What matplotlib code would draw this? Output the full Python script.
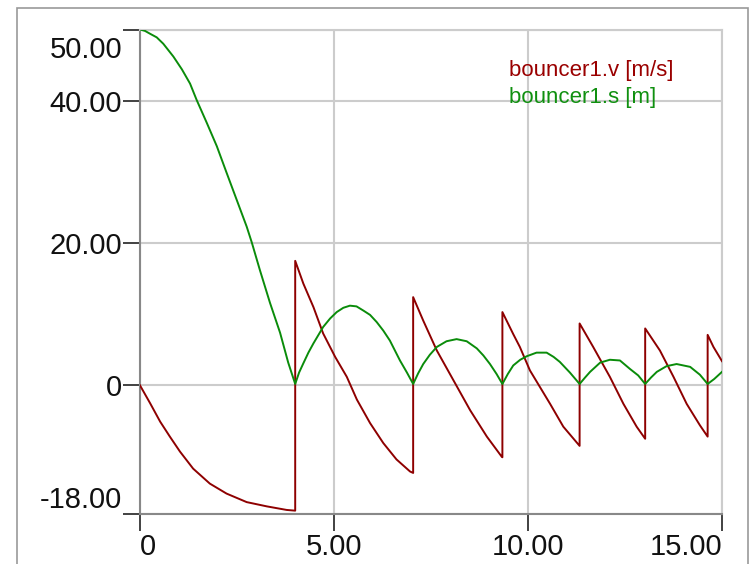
import numpy as np
import matplotlib
matplotlib.use("Agg")
import matplotlib.pyplot as plt
from matplotlib.patches import Rectangle
import matplotlib.transforms as mtransforms

plt.rcParams['font.family'] = ['Liberation Sans', 'DejaVu Sans']

# velocity bouncer1.v [m/s]
t_v = [0, 0.26, 0.52, 0.77, 1.03, 1.37, 1.80, 2.23, 2.75, 3.27, 3.78, 4.0,
       4.0, 4.21, 4.47, 4.72, 5.03, 5.33, 5.59, 5.93, 6.27, 6.61, 6.96, 7.04,
       7.04, 7.30, 7.65, 8.08, 8.51, 8.94, 9.32, 9.34,
       9.34, 9.62, 9.79, 10.05, 10.57, 10.91, 11.33,
       11.33, 11.68, 12.11, 12.46, 12.80, 13.02,
       13.02, 13.40, 13.75, 14.09, 14.43, 14.63,
       14.63, 14.78, 15.0]
v = [0, -2.5, -5.1, -7.2, -9.3, -11.7, -13.8, -15.2, -16.4, -17.0, -17.5, -17.6,
     17.5, 14.3, 11.0, 7.3, 4.0, 1.2, -2.0, -5.3, -8.1, -10.4, -12.1, -12.3,
     12.4, 9.1, 4.9, 0.7, -3.5, -7.2, -10.0, -10.1,
     10.3, 7.2, 5.4, 2.1, -2.6, -5.8, -8.5,
     8.7, 5.4, 1.2, -2.6, -5.8, -7.5,
     8.0, 4.9, 1.2, -2.6, -5.6, -7.2,
     7.1, 5.4, 3.4]

# height bouncer1.s [m]
t_s = [0, 0.13, 0.26, 0.43, 0.6, 0.86, 1.08, 1.29, 1.46, 1.72, 1.98, 2.23, 2.49,
       2.75, 2.88, 3.09, 3.35, 3.61, 3.82, 4.0,
       4.10, 4.21, 4.34, 4.47, 4.72, 4.90, 5.07, 5.24, 5.41, 5.58, 5.76, 5.93,
       6.10, 6.27, 6.44, 6.70, 6.88, 7.04,
       7.17, 7.30, 7.47, 7.65, 7.90, 8.16, 8.42, 8.68, 8.85, 9.02, 9.19, 9.34,
       9.48, 9.62, 9.80, 9.97, 10.22, 10.48, 10.66, 10.82, 11.08, 11.33,
       11.47, 11.60, 11.86, 12.11, 12.37, 12.63, 12.84, 13.02,
       13.17, 13.32, 13.57, 13.83, 14.18, 14.43, 14.63, 14.80, 15.0]
s = [50, 49.8, 49.4, 48.9, 48.0, 46.2, 44.4, 42.4, 40.1, 36.9, 33.6, 29.9, 26.1,
     22.3, 20.1, 16.2, 11.6, 7.4, 3.2, 0.2,
     1.8, 3.1, 4.6, 5.9, 8.2, 9.4, 10.3, 10.9, 11.2, 11.1, 10.5, 9.9,
     8.9, 7.7, 6.3, 3.5, 1.8, 0.2,
     1.7, 3.0, 4.3, 5.4, 6.2, 6.5, 6.2, 5.2, 4.2, 3.0, 1.6, 0.2,
     1.6, 2.8, 3.6, 4.1, 4.6, 4.6, 4.0, 3.3, 1.8, 0.2,
     1.1, 1.9, 3.2, 3.6, 3.5, 2.3, 1.4, 0.2,
     1.1, 1.9, 2.7, 3.0, 2.6, 1.5, 0.2, 0.9, 1.9]

xticks = [0, 5, 10, 15]
xlabels = ['0', '5.00', '10.00', '15.00']
yticks = [-18, 0, 20, 40, 50]
ylabels = ['-18.00', '0', '20.00', '40.00', '50.00']

red = '#8e0000'
green = '#0a8c0a'
grid_c = '#cccccc'

fig = plt.figure(figsize=(7.5, 5.64), dpi=100)
ax = fig.add_axes([140/750, 1-513.5/564, 582/750, 484/564])

ax.plot(t_v, v, color=red, lw=1.4, zorder=3)
ax.plot(t_s, s, color=green, lw=1.4, zorder=3)

ax.set_xlim(0, 15)
ax.set_ylim(-18, 50)
ax.set_xticks(xticks)
ax.set_xticklabels(xlabels)
ax.set_yticks(yticks)
ax.set_yticklabels(ylabels)
ax.grid(True, color=grid_c, lw=1.5, zorder=0)
ax.set_axisbelow(True)

for side in ['left', 'bottom']:
    ax.spines[side].set_color('#888888')
    ax.spines[side].set_linewidth(1.5)
for side in ['top', 'right']:
    ax.spines[side].set_color(grid_c)
    ax.spines[side].set_linewidth(1.5)

ax.tick_params(axis='both', direction='out', length=12, width=1.3,
               color='#333333', labelsize=21, labelcolor='#111111')
ax.tick_params(axis='y', pad=1)
ax.tick_params(axis='x', pad=2)

xl = ax.get_xticklabels()
xl[0].set_ha('left')
xl[-1].set_ha('right')
yl = ax.get_yticklabels()
yl[0].set_va('bottom')
yl[-1].set_va('top')
# push the top label a little lower, like the original
yl[-1].set_transform(yl[-1].get_transform() +
                     mtransforms.ScaledTranslation(0, -5/72, fig.dpi_scale_trans))

ax.text(0.634, 0.904, 'bouncer1.v [m/s]', color='#9a0000', fontsize=16,
        va='baseline', transform=ax.transAxes)
ax.text(0.634, 0.8475, 'bouncer1.s [m]', color='#109010', fontsize=16,
        va='baseline', transform=ax.transAxes)

# outer frame
fig.patches.append(Rectangle((17/750, -0.05), (748-17)/750, 1-8/564+0.05,
                             transform=fig.transFigure, fill=False,
                             edgecolor='#999999', lw=1.2))

plt.savefig('out.png', dpi=100)
